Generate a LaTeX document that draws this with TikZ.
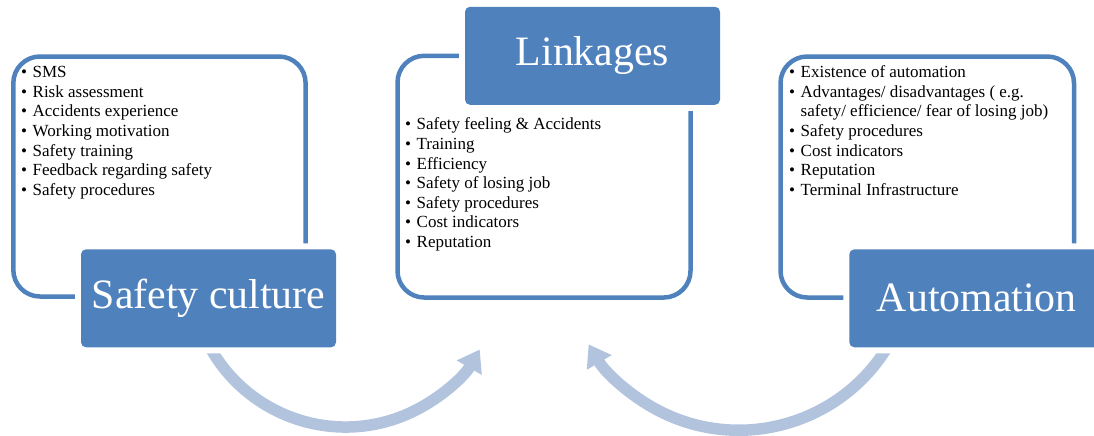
\documentclass[tikz,border=0pt]{standalone}
\usepackage{fontspec}
\setmainfont{Liberation Serif}
\usetikzlibrary{arrows.meta}
\definecolor{ChartBlue}{RGB}{79,129,189}
\definecolor{ChartFlow}{RGB}{178,195,222}
\newcommand{\itm}{\strut\makebox[7pt][l]{\textbullet}}
\tikzset{
    chart/diagram/.style={
        x=0.6pt, y=-0.6pt,
        line join=round,
        every node/.style={inner sep=0pt, outer sep=0pt}
    },
    chart/frame/.style={draw=ChartBlue, line width=2.7pt, rounded corners=16pt},
    chart/title/.style={
        fill=ChartBlue, text=white, rounded corners=3pt,
        minimum width=153pt, minimum height=58.8pt,
        font=\fontsize{25.1}{29}\selectfont,
        preaction={draw=white, line width=7.2pt}
    },
    chart/list/.style={
        anchor=north west, align=left,
        font=\fontsize{10.2}{11.76}\selectfont
    },
    chart/flow/.style={
        draw=ChartFlow, line width=6.9pt,
        -{Triangle[length=12.6pt, width=16.5pt]}
    }
}
\begin{document}
\begin{tikzpicture}[chart/diagram]
    \useasboundingbox (0,0) rectangle (1094,435);
    % outlined panels
    \draw[chart/frame] (13.3,56.5) rectangle (305.6,296.5);
    \draw[chart/frame] (397.5,55.8) rectangle (690.5,297.5);
    \draw[chart/frame] (780.5,56.5) rectangle (1074,297.5);
    % circular flows under the titles
    \coordinate (scturn) at (345.5,272);
    \coordinate (auturn) at (738.8,255.9);
    \draw[chart/flow] ([shift={(154:155)}]scturn) arc[start angle=154, end angle=30, radius=155];
    \draw[chart/flow] ([shift={(28:174.3)}]auturn) arc[start angle=28, end angle=149.5, radius=174.3];
    \node[chart/title] (safety) at (208.5,298.3) {Safety culture};
    \node[chart/title] (link) at (592.5,55.8) {Linkages};
    \node[chart/title] (auto) at (976.8,298.3) {Automation};
    \node[chart/list] (safetylist) at (21,63.9) {%
        \itm SMS\\
        \itm Risk assessment\\
        \itm Accidents experience\\
        \itm Working motivation\\
        \itm Safety training\\
        \itm Feedback regarding safety\\
        \itm Safety procedures};
    \node[chart/list] (linklist) at (405,116.2) {%
        \itm Safety feeling \& Accidents\\
        \itm Training\\
        \itm Efficiency\\
        \itm Safety of losing job\\
        \itm Safety procedures\\
        \itm Cost indicators\\
        \itm Reputation};
    \node[chart/list] (autolist) at (789,64) {%
        \itm Existence of automation\\
        \itm Advantages/ disadvantages ( e.g.\\
        \strut\hspace*{7pt}safety/ efficience/ fear of losing job)\\
        \itm Safety procedures\\
        \itm Cost indicators\\
        \itm Reputation\\
        \itm Terminal Infrastructure};
\end{tikzpicture}
\end{document}
